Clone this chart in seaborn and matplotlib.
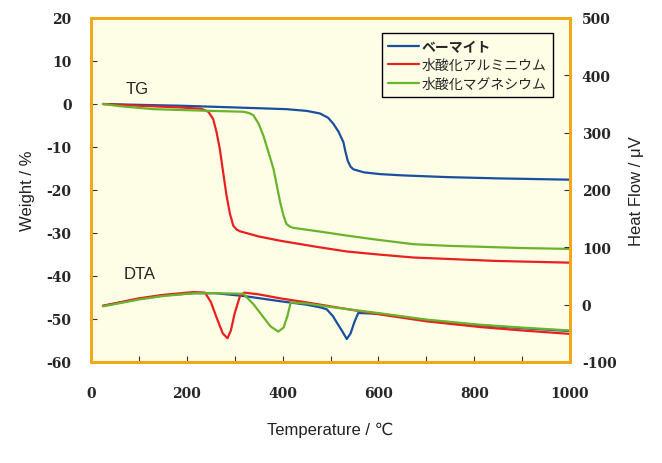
import matplotlib
matplotlib.use("Agg")
import matplotlib.pyplot as plt
import seaborn as sns
import pandas as pd
from matplotlib.lines import Line2D

# ---- data ----
names = ["ベーマイト", "水酸化アルミニウム", "水酸化マグネシウム"]
colors = ["#1A4FA0", "#E8201E", "#6AB42C"]

tg_boe_T = [25, 100, 186, 300, 408, 450, 478, 495, 506, 517, 527, 531, 536, 542, 548, 570, 603, 650, 743, 850, 1000]
tg_boe_W = [0, -0.2, -0.4, -0.8, -1.2, -1.6, -2.2, -3.2, -4.6, -6.5, -8.9, -11, -13.2, -14.6, -15.2, -15.9, -16.3, -16.6, -17.0, -17.3, -17.6]

tg_al_T = [25, 100, 186, 230, 245, 255, 262, 269, 276, 283, 290, 297, 304, 311, 350, 395, 470, 534, 600, 673, 760, 847, 1000]
tg_al_W = [0, -0.4, -0.8, -1.1, -1.8, -3.5, -6.5, -10.5, -16, -21.3, -25.5, -28.3, -29.2, -29.6, -30.8, -31.8, -33.2, -34.3, -35.0, -35.7, -36.1, -36.5, -36.9]

tg_mg_T = [25, 60, 130, 250, 318, 330, 339, 350, 360, 370, 381, 388, 395, 402, 408, 415, 422, 480, 534, 600, 673, 750, 812, 900, 1000]
tg_mg_W = [0, -0.5, -1.2, -1.6, -1.8, -2.1, -2.6, -4.6, -7.4, -11, -15.1, -19, -22.9, -26, -27.9, -28.5, -28.8, -29.7, -30.6, -31.6, -32.6, -33.0, -33.2, -33.5, -33.7]

dta_boe_T = [25, 100, 150, 214, 260, 320, 395, 450, 480, 492, 505, 513, 525, 534, 542, 550, 558, 603, 700, 812, 900, 1000]
dta_boe_H = [-2, 10, 16, 20, 20, 15, 6, 0, -5, -8, -20, -31, -47, -60, -50, -30, -14.5, -16, -27, -36, -41, -46]

dta_al_T = [25, 100, 150, 214, 238, 250, 262, 275, 285, 292, 300, 311, 320, 350, 395, 450, 500, 603, 700, 812, 900, 1000]
dta_al_H = [-2, 11, 17, 22, 21, 5, -22, -50, -58.6, -45, -15, 15, 21, 18, 11, 4, -3, -17, -29, -39, -45, -51]

dta_mg_T = [25, 100, 150, 214, 260, 318, 340, 360, 375, 391, 402, 410, 417, 450, 500, 603, 700, 812, 900, 1000]
dta_mg_H = [-3, 9, 15, 20, 20, 19, 0, -22, -38, -47, -40, -20, 4, 2, -4, -15, -26, -35, -40, -45]

x_ticks = [0, 200, 400, 600, 800, 1000]
y_left_ticks = list(range(-60, 21, 10))
y_right_ticks = list(range(-100, 501, 100))

tg = pd.concat([
    pd.DataFrame({"T": tg_boe_T, "v": tg_boe_W, "s": names[0]}),
    pd.DataFrame({"T": tg_al_T, "v": tg_al_W, "s": names[1]}),
    pd.DataFrame({"T": tg_mg_T, "v": tg_mg_W, "s": names[2]}),
])
dta = pd.concat([
    pd.DataFrame({"T": dta_boe_T, "v": dta_boe_H, "s": names[0]}),
    pd.DataFrame({"T": dta_al_T, "v": dta_al_H, "s": names[1]}),
    pd.DataFrame({"T": dta_mg_T, "v": dta_mg_H, "s": names[2]}),
])

sns.set_style("ticks")
plt.rcParams["font.family"] = ["Liberation Sans", "DejaVu Sans"]

orange = "#F0A818"
bg = "#FEFDE6"
palette = dict(zip(names, colors))

fig = plt.figure(figsize=(6.62, 4.64), dpi=100)
ax = fig.add_axes([91/662, 1-363/464, (570-91)/662, (363-19)/464])
ax.set_facecolor(bg)
ax2 = ax.twinx()

sns.lineplot(data=tg, x="T", y="v", hue="s", palette=palette, ax=ax, legend=False,
             linewidth=1.6, sort=False, estimator=None)
sns.lineplot(data=dta, x="T", y="v", hue="s", palette=palette, ax=ax2, legend=False,
             linewidth=1.6, sort=False, estimator=None)

ax.set_xlim(0, 1000)
ax.set_ylim(-60, 20)
ax2.set_ylim(-100, 500)
ax.set_xticks(list(range(0, 1001, 100)))
ax.set_xticklabels([str(t) if t in x_ticks else "" for t in range(0, 1001, 100)])
ax.set_yticks(y_left_ticks)
ax.set_yticklabels([str(t) for t in y_left_ticks])
ax2.set_yticks(y_right_ticks)
ax2.set_yticklabels([str(t) for t in y_right_ticks])

for a in (ax, ax2):
    for lab in a.get_xticklabels() + a.get_yticklabels():
        lab.set_fontfamily("DejaVu Serif")
        lab.set_fontweight("bold")
        lab.set_fontsize(10)
    for sp in a.spines.values():
        sp.set_color(orange)
        sp.set_linewidth(2)
ax.tick_params(axis="x", direction="in", length=4, width=0.8, color="#333333", pad=17)
ax.tick_params(axis="y", direction="in", length=4, width=0.8, color="#333333", pad=14)
ax2.tick_params(axis="y", direction="in", length=4, width=0.8, color="#333333", pad=8.5)

ax.set_xlabel("Temperature / ℃", fontsize=12, labelpad=16, color="#222222")
ax.set_ylabel("Weight / %", fontsize=12, labelpad=8, color="#222222")
ax2.set_ylabel("Heat Flow / μV", fontsize=12, labelpad=9, color="#222222")

ax.text(72, 3.5, "TG", fontsize=12, color="#222222", ha="left", va="center")
ax.text(68, -39.5, "DTA", fontsize=12, color="#222222", ha="left", va="center")

handles = [Line2D([0], [0], color=c, linewidth=1.6) for c in colors]
leg = ax2.legend(handles, names, loc="upper right", bbox_to_anchor=(0.964, 0.955),
                 borderaxespad=0, fancybox=False, framealpha=1, edgecolor="black",
                 facecolor=bg, prop={"family": ["Noto Sans CJK JP", "DejaVu Sans"], "size": 10},
                 handlelength=2.2, handletextpad=0.2, labelspacing=0.32, borderpad=0.45)
leg.get_frame().set_linewidth(1)
leg.get_texts()[0].set_fontweight("bold")

fig.savefig("out.png", dpi=100, facecolor="white")
